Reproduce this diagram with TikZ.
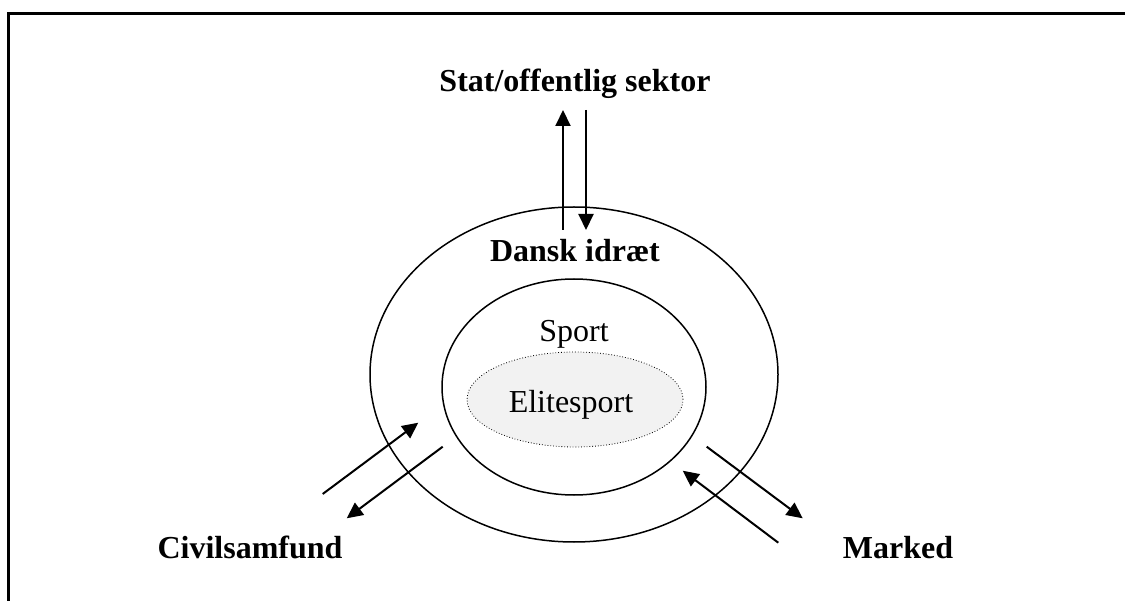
\documentclass[tikz,border=0pt]{standalone}
\usepackage{fontspec}
\setmainfont{Liberation Serif}
\usetikzlibrary{shapes.geometric,arrows.meta}
\tikzset{
  lbl/.style={anchor=base, inner sep=0pt, font=\fontsize{32}{38}\selectfont\bfseries},
  txt/.style={anchor=base, inner sep=0pt, font=\fontsize{32}{38}\selectfont},
  ring/.style={ellipse, draw, line width=1.5pt, inner sep=0pt},
  flow/.style={line width=2pt, -{Triangle[length=16pt,width=15pt]}}
}
\begin{document}
\begin{tikzpicture}[x=1pt,y=-1pt]
\useasboundingbox (0,0) rectangle (1125,601);
% frame
\draw[line width=2.2pt] (8.5,601) -- (8.5,13.5) -- (1125,13.5);
% ellipses
\node[ring, minimum width=408pt, minimum height=335pt] (outer) at (574,374.5) {};
\node[ring, minimum width=264pt, minimum height=216pt] (inner) at (574,387) {};
\node[ellipse, draw, dotted, line width=0.8pt, fill=black!5, inner sep=0pt,
      minimum width=216pt, minimum height=95pt] (elite) at (575,399.5) {};
% labels
\node[lbl] (stat) at (575,92) {Stat/offentlig sektor};
\node[lbl] (dansk) at (575,262) {Dansk idræt};
\node[txt] (sport) at (574,342) {Sport};
\node[txt] (elitesport) at (571,413) {Elitesport};
\node[lbl] (civil) at (250,558) {Civilsamfund};
\node[lbl] (marked) at (898,558) {Marked};
% arrow end points
\coordinate (u1) at (563,230);
\coordinate (u2) at (563,110);
\coordinate (d1) at (586,110);
\coordinate (d2) at (586,230);
\coordinate (l1s) at (322.7,494);
\coordinate (l1e) at (418.3,422.7);
\coordinate (l2s) at (442.7,446.7);
\coordinate (l2e) at (346.7,518.3);
\coordinate (r1s) at (706.7,446.7);
\coordinate (r1e) at (802.7,518.3);
\coordinate (r2s) at (778.3,542.7);
\coordinate (r2e) at (682.7,470.7);
% arrows
\draw[flow] (u1) -- (u2);
\draw[flow] (d1) -- (d2);
\draw[flow] (l1s) -- (l1e);
\draw[flow] (l2s) -- (l2e);
\draw[flow] (r1s) -- (r1e);
\draw[flow] (r2s) -- (r2e);
\end{tikzpicture}
\end{document}
